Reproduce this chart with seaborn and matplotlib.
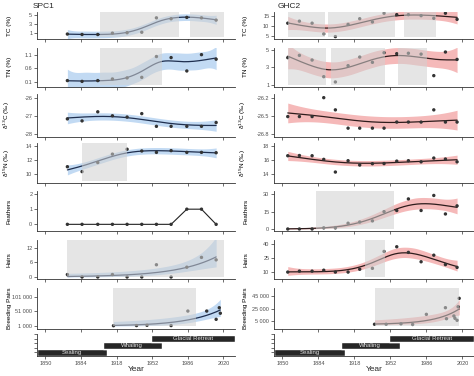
import numpy as np
import pandas as pd
import matplotlib
matplotlib.use("Agg")
import matplotlib.pyplot as plt
import seaborn as sns

# ---- data ----
years_spc1 = [1871, 1885, 1900, 1914, 1928, 1942, 1956, 1970, 1985, 1999, 2013]
tc_spc1 = [0.7, 0.6, 0.6, 0.9, 1.0, 1.1, 4.3, 4.1, 4.4, 4.3, 3.8]
tn_spc1 = [0.14, 0.11, 0.14, 0.2, 0.24, 0.26, 1.04, 1.0, 0.5, 1.11, 0.94]
d13c_spc1 = [-27.17, -27.28, -26.78, -27.0, -27.07, -26.88, -27.58, -27.58, -27.58, -27.58, -27.37]
d15n_spc1 = [11.0, 10.3, 11.6, 12.8, 13.5, 13.25, 13.05, 13.3, 13.05, 13.05, 13.0]
feathers_spc1 = [0, 0, 0, 0, 0, 0, 0, 0, 1, 1, 0]
hairs_spc1 = [1, 0, 0, 1, 0, 0, 5, 0, 4, 8, 7]
bp_years_spc1 = [1915, 1937, 1947, 1970, 1986, 2004, 2013, 2016, 2017]
bp_spc1 = [1000, 1500, 2500, 1500, 51500, 51500, 23000, 63000, 44000]

years_ghc2 = [1855, 1866, 1878, 1889, 1900, 1912, 1923, 1935, 1946, 1958, 1969, 1981, 1993, 2004, 2015]
tc_ghc2 = [11.3, 12.3, 11.3, 6.0, 4.7, 10.7, 13.5, 11.9, 16.2, 15.5, 15.5, 15.0, 13.7, 16.2, 13.2]
tn_ghc2 = [4.1, 4.36, 3.83, 1.94, 1.34, 3.19, 4.17, 3.57, 4.66, 4.55, 4.6, 4.5, 2.06, 4.74, 3.9]
d13c_ghc2 = [-26.51, -26.51, -26.51, -26.2, -26.4, -26.7, -26.7, -26.7, -26.7, -26.6, -26.6, -26.6, -26.4, -26.6, -26.6]
d15n_ghc2 = [16.57, 16.6, 16.57, 16.05, 14.24, 15.86, 15.24, 15.43, 15.45, 15.8, 15.86, 15.7, 16.24, 16.1, 15.7]
feathers_ghc2 = [0, 0, 0, 1, 1, 5, 6, 7, 15, 16, 26, 16, 29, 13, 20]
hairs_ghc2 = [10, 11, 11, 12, 10, 10, 13, 14, 32, 37, 31, 21, 28, 18, 15]
bp_years_ghc2 = [1937, 1948, 1962, 1973, 1986, 2004, 2005, 2012, 2013, 2015, 2016, 2017]
bp_ghc2 = [300, 300, 1000, 0, 16000, 26500, 9100, 13400, 9700, 6600, 28000, 41300]

# shaded periods (start, end)
spans_spc1 = {"TC": [(1902, 1978), (1988.5, 2020.5)], "TN": [(1902, 1961)], "d15N": [(1885, 1928)],
              "Hairs": [(1870.5, 2020.5)], "BP": [(1915, 1994)]}
spans_ghc2 = {"TC": [(1855, 1890), (1893, 1956.5), (1965, 1995.5)],
              "TN": [(1855, 1891.5), (1895.5, 1946.5), (1959, 1987)],
              "Feathers": [(1882, 1955.5)], "Hairs": [(1928, 1946.5)], "BP": [(1937, 2017)]}

# timeline periods
periods = ["Sealing", "Whaling", "Glacial Retreat"]
period_start = [1842, 1905, 1951]
period_end = [1909, 1961, 2031]

YEAR_TICKS = [1850, 1884, 1918, 1952, 1986, 2020]


# ---- penalised B-spline GAM (gaussian / quasi-poisson) ----
def bbase(x, xl, xr, nseg, deg=3):
    x = np.asarray(x, float)
    dx = (xr - xl) / nseg
    t = xl + dx * np.arange(-deg, nseg + deg + 1)
    B = ((x[:, None] >= t[:-1]) & (x[:, None] < t[1:])).astype(float)
    for k in range(1, deg + 1):
        left = (x[:, None] - t[:-k - 1]) / (t[k:-1] - t[:-k - 1])
        right = (t[k + 1:] - x[:, None]) / (t[k + 1:] - t[1:-k])
        B = left * B[:, :-1] + right * B[:, 1:]
    return B


def gam(x, y, grid, lam, family="gaussian", nseg=8, scale=1.0):
    x = np.asarray(x, float)
    y = np.asarray(y, float) / scale
    xl, xr = x.min() - 1, x.max() + 1
    B = bbase(x, xl, xr, nseg)
    G = bbase(grid, xl, xr, nseg)
    D = np.diff(np.eye(B.shape[1]), 2, axis=0)
    P = lam * D.T @ D
    if family == "gaussian":
        w = np.ones_like(y)
        A = B.T @ B + P
        beta = np.linalg.solve(A, B.T @ y)
        resid = y - B @ beta
    else:
        eta = np.log(y + 0.5)
        for _ in range(60):
            mu = np.exp(eta)
            w = mu
            z = eta + (y - mu) / mu
            A = B.T @ (w[:, None] * B) + P
            beta = np.linalg.solve(A, B.T @ (w * z))
            eta = B @ beta
        mu = np.exp(eta)
        w = mu
        A = B.T @ (w[:, None] * B) + P
        resid = (y - mu) / np.sqrt(mu)
    Ainv = np.linalg.inv(A)
    edf = np.trace(Ainv @ (B.T @ (w[:, None] * B)))
    phi = np.sum(resid ** 2) / max(len(y) - edf, 1.0)
    V = phi * Ainv
    eg = G @ beta
    se = np.sqrt(np.einsum("ij,jk,ik->i", G, V, G))
    if family == "gaussian":
        return eg * scale, (eg - 1.96 * se) * scale, (eg + 1.96 * se) * scale
    return np.exp(eg) * scale, np.exp(eg - 1.96 * se) * scale, np.exp(eg + 1.96 * se) * scale


# ---- figure ----
sns.set_theme(style="ticks")
plt.rcParams["font.family"] = ["Liberation Sans", "DejaVu Sans"]

W, H = 474, 376
fig = plt.figure(figsize=(W / 100, H / 100), dpi=100)
fig.patch.set_facecolor("white")

cols = {"L": (37, 235), "R": (274, 474)}
rows = [(12, 39), (47.7, 87), (94, 136.7), (143, 183.3), (191, 231), (240, 279.3), (288, 328.7), (334, 356)]
label_x = {"L": -0.128, "R": -0.13}
colors = {"L": ("#1f2f4f", "#c2daf3"), "R": ("#2e1c1c", "#f5b9b9")}


def make_axes(col, row, ylim, yticks, yticklabels, ylabel):
    x0, x1 = cols[col]
    yt, yb = rows[row]
    ax = fig.add_axes([x0 / W, 1 - yb / H, (x1 - x0) / W, (yb - yt) / H])
    ax.patch.set_alpha(0)
    ax.set_xlim(1842, 2031)
    ax.set_ylim(ylim)
    ax.set_xticks(YEAR_TICKS)
    ax.set_xticklabels([])
    ax.set_yticks(yticks)
    ax.set_yticklabels(yticklabels)
    sns.despine(ax=ax)
    for s in ["left", "bottom"]:
        ax.spines[s].set_linewidth(0.6)
        ax.spines[s].set_color("#333333")
    ax.tick_params(length=2.2, width=0.5, color="#333333", labelsize=4, labelcolor="#4d4d4d", pad=1.2)
    ax.set_xlabel("")
    ax.set_ylabel(ylabel, fontsize=4.6, color="black")
    ax.yaxis.set_label_coords(label_x[col], 0.5)
    return ax


def shade(ax, spans, row):
    yt, yb = rows[row]
    frac = 2.5 / (yb - yt)
    for a, b in spans:
        ax.axvspan(a, b, ymin=frac, ymax=1, color="#d1d1d1", alpha=0.55, lw=0, zorder=5)


def smooth(ax, col, x, y, lam, family="gaussian", scale=1.0):
    line_c, band_c = colors[col]
    grid = np.linspace(min(x), max(x), 200)
    fit, lo, hi = gam(x, y, grid, lam, family, scale=scale)
    ax.fill_between(grid, lo, hi, color=band_c, lw=0, zorder=1)
    sns.lineplot(x=grid, y=fit, ax=ax, color=line_c, lw=0.9, zorder=2)
    sns.scatterplot(x=x, y=y, ax=ax, color="#333333", s=6, edgecolor="none", zorder=3)


d13 = "\u03b4$^{13}$C (\u2030)"
d15 = "\u03b4$^{15}$N (\u2030)"

# ---- SPC1 ----
ax = make_axes("L", 0, (-0.4, 5.6), [1, 3, 5], ["1", "3", "5"], "TC (%)")
smooth(ax, "L", years_spc1, tc_spc1, 0.15)
shade(ax, spans_spc1["TC"], 0)

ax = make_axes("L", 1, (-0.1, 1.37), [0.1, 0.6, 1.1], ["0.1", "0.6", "1.1"], "TN (%)")
smooth(ax, "L", years_spc1, tn_spc1, 0.1)
shade(ax, spans_spc1["TN"], 1)

ax = make_axes("L", 2, (-28.15, -25.8), [-28, -27, -26], ["-28", "-27", "-26"], d13)
smooth(ax, "L", years_spc1, d13c_spc1, 3.0)

ax = make_axes("L", 3, (8.63, 14.39), [10, 12, 14], ["10", "12", "14"], d15)
smooth(ax, "L", years_spc1, d15n_spc1, 1.0)
shade(ax, spans_spc1["d15N"], 3)

ax = make_axes("L", 4, (-0.44, 2.2), [0, 1, 2], ["0", "1", "2"], "Feathers")
sns.lineplot(x=years_spc1, y=feathers_spc1, ax=ax, color="#222222", lw=0.8, zorder=2)
sns.scatterplot(x=years_spc1, y=feathers_spc1, ax=ax, color="#333333", s=6, edgecolor="none", zorder=3)

ax = make_axes("L", 5, (-0.94, 15.1), [0, 6, 12], ["0", "6", "12"], "Hairs")
smooth(ax, "L", years_spc1, hairs_spc1, 200.0, "poisson")
shade(ax, spans_spc1["Hairs"], 5)

ax = make_axes("L", 6, (-9300, 131000), [1000, 51000, 101000], ["1 000", "51 000", "101 000"], "Breeding Pairs")
smooth(ax, "L", bp_years_spc1, bp_spc1, 3000.0, "poisson", scale=1000)
shade(ax, spans_spc1["BP"], 6)

# ---- GHC2 ----
ax = make_axes("R", 0, (3.52, 16.8), [5, 10, 15], ["5", "10", "15"], "TC (%)")
smooth(ax, "R", years_ghc2, tc_ghc2, 1.0)
shade(ax, spans_ghc2["TC"], 0)

ax = make_axes("R", 1, (0.77, 5.23), [1, 3, 5], ["1", "3", "5"], "TN (%)")
smooth(ax, "R", years_ghc2, tn_ghc2, 0.6)
shade(ax, spans_ghc2["TN"], 1)

ax = make_axes("R", 2, (-26.84, -26.14), [-26.8, -26.5, -26.2], ["-26.8", "-26.5", "-26.2"], d13)
smooth(ax, "R", years_ghc2, d13c_ghc2, 10.0)

ax = make_axes("R", 3, (12.63, 18.39), [14, 16, 18], ["14", "16", "18"], d15)
smooth(ax, "R", years_ghc2, d15n_ghc2, 5.0)

ax = make_axes("R", 4, (-1.73, 32.85), [0, 15, 30], ["0", "15", "30"], "Feathers")
smooth(ax, "R", years_ghc2, feathers_ghc2, 10.0, "poisson")
shade(ax, spans_ghc2["Feathers"], 4)

ax = make_axes("R", 5, (2.3, 44.2), [10, 25, 40], ["10", "25", "40"], "Hairs")
smooth(ax, "R", years_ghc2, hairs_ghc2, 10.0, "poisson")
shade(ax, spans_ghc2["Hairs"], 5)

ax = make_axes("R", 6, (-6700, 57650), [5000, 25000, 45000], ["5 000", "25 000", "45 000"], "Breeding Pairs")
smooth(ax, "R", bp_years_ghc2, bp_ghc2, 3000.0, "poisson", scale=1000)
shade(ax, spans_ghc2["BP"], 6)

# ---- timelines ----
for col in ["L", "R"]:
    ax = make_axes(col, 7, (0.45, 3.65), np.linspace(1.0, 3.6, 5), [""] * 5, "")
    ax.barh(y=[1, 2, 3], width=np.subtract(period_end, period_start), left=period_start,
            height=0.98, color="#262626", zorder=2)
    for i, name in enumerate(periods):
        mid = (max(period_start[i], 1842) + min(period_end[i], 2031)) / 2
        ax.text(mid, i + 1, name, ha="center", va="center", fontsize=4.3, color="#e6e6e6", zorder=3)
    ax.set_xticklabels([str(t) for t in YEAR_TICKS])
    ax.set_xlabel("Year", fontsize=6, labelpad=0.5)

fig.text(33 / W, 1 - 7.5 / H, "SPC1", fontsize=6, va="baseline", ha="left")
fig.text(278 / W, 1 - 7.5 / H, "GHC2", fontsize=6, va="baseline", ha="left")

fig.savefig("out.png", dpi=100)
